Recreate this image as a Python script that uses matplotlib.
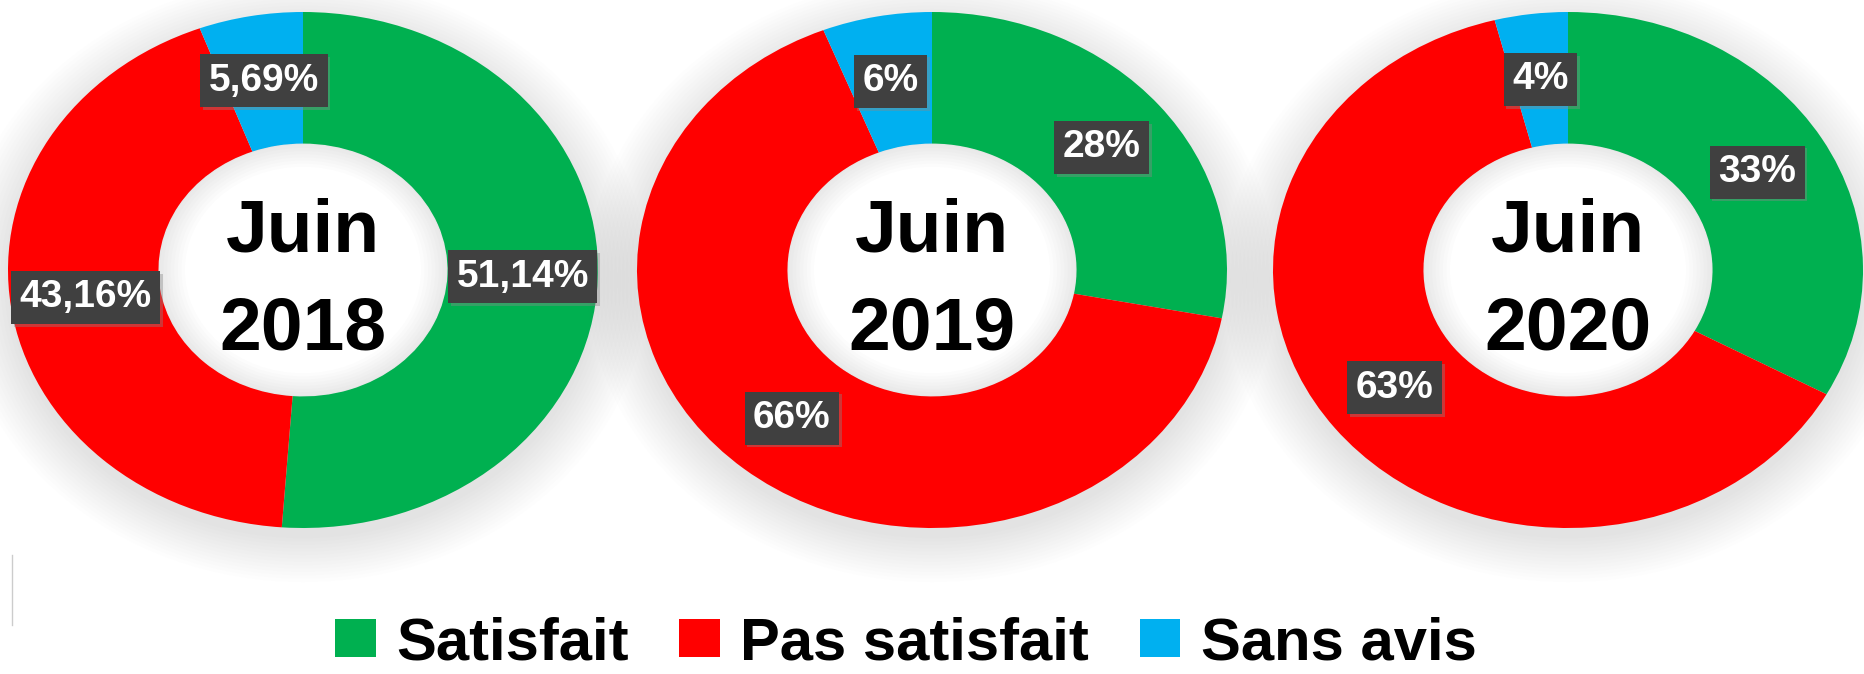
import matplotlib
matplotlib.use("Agg")
import matplotlib.pyplot as plt
import matplotlib.patheffects as pe
from matplotlib.patches import Patch, Circle, Wedge
from matplotlib.lines import Line2D
import numpy as np

# data
years = ["2018", "2019", "2020"]
categories = ["Satisfait", "Pas satisfait", "Sans avis"]
satisfait = [51.14, 28, 33]
pas_satisfait = [43.16, 66, 63]
sans_avis = [5.69, 6, 4]
decimals = [2, 0, 0]
colors = ["#00B050", "#FF0000", "#00B0F0"]

W, H = 1864, 674
fig = plt.figure(figsize=(W / 100, H / 100), dpi=100, facecolor="white")

# donut centres / radii in pixels (from the top left)
centres_x = [303, 932, 1568]
cy, rx, ry = 270, 295, 258
hole = 0.49

for i, year in enumerate(years):
    cx = centres_x[i]
    ax = fig.add_axes([(cx - rx) / W, (H - cy - ry) / H, 2 * rx / W, 2 * ry / H])
    vals = [satisfait[i], pas_satisfait[i], sans_avis[i]]
    labels = [f"{v:.{decimals[i]}f}".replace(".", ",") + "%" for v in vals]

    wedges, texts = ax.pie(vals, colors=colors, startangle=90, counterclock=False,
                           radius=1, labels=labels, labeldistance=(1 + hole) / 2,
                           wedgeprops=dict(width=1 - hole, linewidth=0))
    ax.set_aspect("auto")
    ax.set_xlim(-1, 1)
    ax.set_ylim(-1, 1)

    # soft drop shadow under the ring
    for r in np.linspace(1.0, 1.17, 14):
        ax.add_patch(Circle((0.0, -0.04), r, color="#808080", alpha=0.012,
                            lw=0, zorder=0, clip_on=False))
    # hole stays white, with a faint inner shadow at its rim
    ax.add_patch(Circle((0, 0), hole, color="white", lw=0, zorder=0.3))
    for r in np.linspace(0.40, 0.485, 8):
        ax.add_patch(Wedge((0, 0), hole, 0, 360, width=hole - r, color="#909090",
                           alpha=0.025, lw=0, zorder=0.5))

    for t in texts:
        t.set_ha("center")
        t.set_va("center")
        t.set_fontsize(28)
        t.set_fontweight("bold")
        t.set_family("Liberation Sans")
        t.set_color("white")
        t.set_bbox(dict(boxstyle="square,pad=0.22", facecolor="#404040", edgecolor="none"))
        t.get_bbox_patch().set_path_effects(
            [pe.withSimplePatchShadow(offset=(2, -2), shadow_rgbFace="#888888", alpha=0.4)])
        t.set_zorder(5)

    ax.text(0, 0.07, "Juin", ha="center", va="baseline", fontsize=54,
            fontweight="bold", family="Liberation Sans", color="black")
    ax.text(0, -0.31, year, ha="center", va="baseline", fontsize=54,
            fontweight="bold", family="Liberation Sans", color="black")

handles = [Patch(facecolor=c, edgecolor="none") for c in colors]
fig.legend(handles=handles, labels=categories, loc="center",
           bbox_to_anchor=(0.486, 0.045), ncol=3, frameon=False,
           prop=dict(family="Liberation Sans", weight="bold", size=43),
           handlelength=0.68, handleheight=0.6, handletextpad=0.34,
           columnspacing=0.85, borderpad=0)

# thin grey tick at the bottom left of the original
fig.add_artist(Line2D([12 / W, 12 / W], [(H - 555) / H, (H - 625) / H],
                      color="#cccccc", lw=1))

fig.savefig("out.png", dpi=100, facecolor="white")
